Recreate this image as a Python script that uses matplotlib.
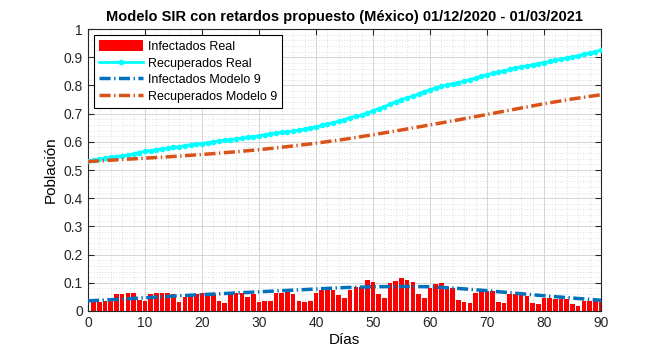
import matplotlib
matplotlib.use("Agg")
import matplotlib.pyplot as plt
from matplotlib.ticker import MultipleLocator
import numpy as np

plt.rcParams['font.family'] = ['Liberation Sans', 'DejaVu Sans']

title = "Modelo SIR con retardos propuesto (México) 01/12/2020 - 01/03/2021"
xlabel = "Días"
ylabel = "Población"

bar_days = list(range(1, 91))
infectados_real = [
    0.037, 0.033, 0.035, 0.045, 0.060, 0.060, 0.065, 0.063, 0.040, 0.037,
    0.060, 0.065, 0.065, 0.065, 0.060, 0.033, 0.050, 0.060, 0.060, 0.065,
    0.065, 0.060, 0.037, 0.030, 0.065, 0.065, 0.065, 0.050, 0.060, 0.033,
    0.035, 0.035, 0.065, 0.065, 0.068, 0.060, 0.035, 0.031, 0.035, 0.065,
    0.074, 0.074, 0.074, 0.057, 0.045, 0.074, 0.086, 0.086, 0.110, 0.104,
    0.060, 0.045, 0.098, 0.107, 0.116, 0.110, 0.104, 0.060, 0.047, 0.080,
    0.096, 0.098, 0.086, 0.080, 0.039, 0.031, 0.027, 0.065, 0.071, 0.071,
    0.071, 0.033, 0.027, 0.059, 0.059, 0.057, 0.053, 0.027, 0.024, 0.047,
    0.047, 0.041, 0.041, 0.041, 0.024, 0.019, 0.037, 0.037, 0.037, 0.033,
]

real_days = list(range(0, 91))
recuperados_real = [
    0.532, 0.535, 0.539, 0.542, 0.545, 0.547, 0.550, 0.553, 0.558, 0.562,
    0.566, 0.569, 0.572, 0.575, 0.577, 0.580, 0.583, 0.586, 0.589, 0.592,
    0.594, 0.597, 0.600, 0.603, 0.606, 0.608, 0.610, 0.613, 0.616, 0.618,
    0.621, 0.624, 0.628, 0.631, 0.634, 0.636, 0.638, 0.641, 0.645, 0.649,
    0.653, 0.658, 0.663, 0.668, 0.673, 0.679, 0.686, 0.690, 0.695, 0.702,
    0.710, 0.718, 0.724, 0.734, 0.742, 0.750, 0.756, 0.762, 0.770, 0.778,
    0.785, 0.792, 0.797, 0.802, 0.806, 0.810, 0.815, 0.820, 0.826, 0.832,
    0.838, 0.843, 0.847, 0.852, 0.857, 0.862, 0.866, 0.869, 0.873, 0.877,
    0.881, 0.885, 0.889, 0.893, 0.897, 0.901, 0.905, 0.910, 0.915, 0.920,
    0.925,
]

model_days = [0, 5, 10, 15, 20, 25, 30, 35, 40, 45, 50, 55, 60, 65, 70, 75, 80, 85, 90]
infectados_modelo = [0.036, 0.041, 0.047, 0.053, 0.058, 0.063, 0.068, 0.073, 0.078, 0.083,
                     0.086, 0.087, 0.086, 0.080, 0.072, 0.063, 0.054, 0.046, 0.038]
recuperados_modelo = [0.530, 0.536, 0.542, 0.548, 0.555, 0.563, 0.572, 0.583, 0.595, 0.609,
                      0.625, 0.642, 0.660, 0.678, 0.697, 0.716, 0.735, 0.752, 0.767]

fig = plt.figure(figsize=(6.64, 3.54), dpi=100)
ax = fig.add_axes([0.1325, 0.1215, 0.7725, 0.7965])

dash = (0, (3.2, 1.0, 0.4, 1.0))
h_bar = ax.bar(bar_days, infectados_real, width=0.8, color=(1, 0, 0), label="Infectados Real", zorder=2)
h_rr, = ax.plot(real_days, recuperados_real, color=(0, 1, 1), marker='.', markersize=6, lw=2,
                label="Recuperados Real", zorder=3)
h_im, = ax.plot(model_days, infectados_modelo, color=(0, 0.447, 0.741), ls=dash, lw=2.5,
                label="Infectados Modelo 9", zorder=4)
h_rm, = ax.plot(model_days, recuperados_modelo, color=(0.85, 0.325, 0.098), ls=dash, lw=2.5,
                label="Recuperados Modelo 9", zorder=4)

ax.set_xlim(0, 90)
ax.set_ylim(0, 1)
ax.xaxis.set_major_locator(MultipleLocator(10))
ax.xaxis.set_minor_locator(MultipleLocator(2))
ax.yaxis.set_minor_locator(MultipleLocator(0.02))
ax.set_yticks(np.arange(0, 1.01, 0.1))
ax.set_yticklabels(["0", "0.1", "0.2", "0.3", "0.4", "0.5", "0.6", "0.7", "0.8", "0.9", "1"])
ax.grid(True, which='major', color='#d0d0d0', lw=0.6, zorder=0)
ax.grid(True, which='minor', color='#c0c0c0', lw=0.5, ls=(0, (1, 3)), zorder=0)
ax.set_axisbelow(True)
ax.tick_params(which='both', direction='in', top=True, right=True, labelsize=10, colors='#262626')
ax.tick_params(which='minor', length=0)
ax.tick_params(which='major', length=4)
for s in ax.spines.values():
    s.set_color('#262626')
    s.set_linewidth(0.8)

ax.set_title(title, fontsize=10.5, fontweight='bold', pad=6)
ax.set_xlabel(xlabel, fontsize=11, labelpad=2)
ax.set_ylabel(ylabel, fontsize=11, labelpad=4)

leg = ax.legend([h_bar, h_rr, h_im, h_rm],
                ["Infectados Real", "Recuperados Real", "Infectados Modelo 9", "Recuperados Modelo 9"],
                loc='upper left', fontsize=9, frameon=True, fancybox=False,
                edgecolor='black', framealpha=1, handlelength=3.5, handleheight=1.0,
                borderaxespad=0.5, labelspacing=0.3, handletextpad=0.4, borderpad=0.4)
leg.get_frame().set_linewidth(0.8)

fig.savefig("out.png", dpi=100)
